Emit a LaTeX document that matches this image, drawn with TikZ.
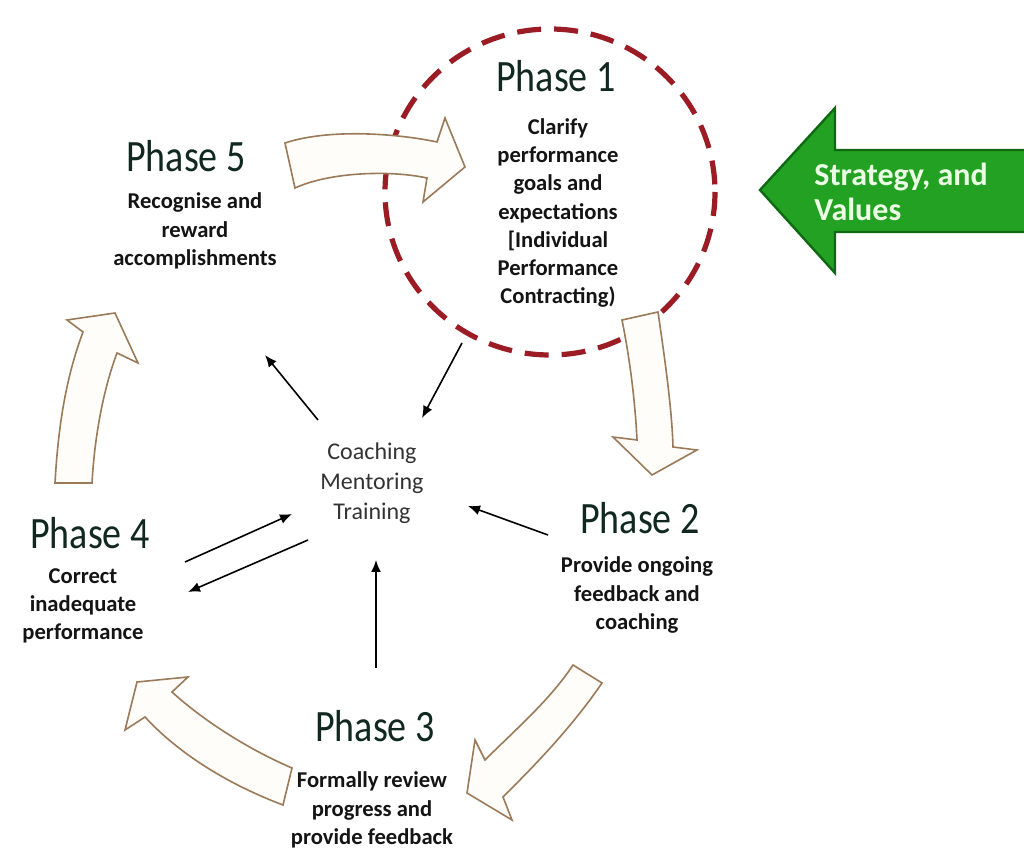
\documentclass[tikz,border=0pt]{standalone}
\usepackage{fontspec}
\setmainfont{Carlito}
\usetikzlibrary{arrows.meta}
\definecolor{phasetxt}{HTML}{102820}
\definecolor{bodytxt}{HTML}{141414}
\definecolor{midtxt}{HTML}{333333}
\definecolor{ringred}{HTML}{9B1C24}
\definecolor{blockline}{HTML}{9A7A58}
\definecolor{blockfill}{HTML}{FFFDF9}
\definecolor{greenfill}{HTML}{22A122}
\definecolor{greenline}{HTML}{0E6A12}
\definecolor{greentxt}{HTML}{EAFFE4}
\newcommand{\tallphase}[1]{\scalebox{1}[1.18]{#1}}
\tikzset{
  phase/.style={text=phasetxt, font=\fontsize{19}{23}\selectfont, inner sep=0pt},
  body/.style={text=bodytxt, font=\fontsize{11.3}{14.1}\selectfont\bfseries, align=center, inner sep=0pt},
  midtext/.style={text=midtxt, font=\fontsize{12}{15}\selectfont, align=center, inner sep=0pt},
  blockarrow/.style={draw=blockline, fill=blockfill, line width=0.8pt, line join=miter},
  link/.style={draw=black, line width=0.8pt, -{Latex[length=6pt,width=5pt]}},
  ring/.style={draw=ringred, line width=2.6pt, dash pattern=on 12pt off 6.5pt},
}
\begin{document}
\begin{tikzpicture}[x=0.5pt,y=-0.5pt]
\useasboundingbox (0,0) rectangle (1024,849);
\fill[white] (0,0) rectangle (1024,849);

% dashed ring around phase 1
\draw[ring] (550,192) ellipse [x radius=165, y radius=163];

% green strategy arrow
\filldraw[fill=greenfill, draw=greenline, line width=1.2pt, line join=miter]
  (760,190) -- (835,108) -- (835,150) -- (1026,150) -- (1026,232) -- (835,232) -- (835,273) -- cycle;
\node[anchor=west, text=greentxt, font=\fontsize{16}{17.5}\selectfont\bfseries, align=left, inner sep=0pt] (strat) at (814,192) {Strategy, and\\Values};

% block arrows of the cycle
\path[blockarrow] (285,143) .. controls (330,128) and (400,134) .. (437,142) -- (445,118) -- (465,167) -- (423,202) -- (427,178)
  .. controls (390,170) and (330,172) .. (295,188) -- cycle;
\path[blockarrow] (622,320) -- (658,312) .. controls (665,360) and (672,410) .. (673,447) -- (697,450) -- (652,475) -- (613,437) -- (637,440)
  .. controls (635,400) and (630,360) .. (622,320) -- cycle;
\path[blockarrow] (573,665) -- (602,683) .. controls (570,730) and (530,770) .. (503,797) -- (512,820) -- (467,793) -- (475,740) -- (485,760)
  .. controls (515,730) and (550,700) .. (573,665) -- cycle;
\path[blockarrow] (292,768) .. controls (250,750) and (205,722) .. (172,692) -- (188,677) -- (137,682) -- (125,730) -- (145,717)
  .. controls (180,755) and (230,785) .. (283,805) -- cycle;
\path[blockarrow] (55,483) -- (92,483) .. controls (95,430) and (105,385) .. (117,353) -- (138,363) -- (115,313) -- (67,320) -- (83,332)
  .. controls (65,380) and (58,430) .. (55,483) -- cycle;

% phase texts
\node[phase] (p1) at (556,76) {\tallphase{Phase 1}};
\node[body] (b1) at (558,213) {Clarify\\performance\\goals and\\expectations\\{[}Individual\\Performance\\Contracting)};
\node[phase] (p5) at (186,156) {\tallphase{Phase 5}};
\node[body] (b5) at (195,231) {Recognise and\\reward\\accomplishments};
\node[phase] (p4) at (90,533) {\tallphase{Phase 4}};
\node[body] (b4) at (83,606) {Correct\\inadequate\\performance};
\node[phase] (p2) at (640,518) {\tallphase{Phase 2}};
\node[body] (b2) at (637,595) {Provide ongoing\\feedback and\\coaching};
\node[phase] (p3) at (375,726) {\tallphase{Phase 3}};
\node[body] (b3) at (372,810) {Formally review\\progress and\\provide feedback};

% centre
\node[midtext] (mid) at (372,483) {Coaching\\Mentoring\\Training};

% connector end points
\coordinate (m5s) at (318,420); \coordinate (m5e) at (265,355);
\coordinate (m1s) at (462,343); \coordinate (m1e) at (422,418);
\coordinate (m2s) at (548,535); \coordinate (m2e) at (468,506);
\coordinate (m3s) at (376,668); \coordinate (m3e) at (376,560);
\coordinate (m4as) at (185,562); \coordinate (m4ae) at (292,514);
\coordinate (m4bs) at (308,540); \coordinate (m4be) at (188,592);

\draw[link] (m5s) -- (m5e);
\draw[link] (m1s) -- (m1e);
\draw[link] (m2s) -- (m2e);
\draw[link] (m3s) -- (m3e);
\draw[link] (m4as) -- (m4ae);
\draw[link] (m4bs) -- (m4be);
\end{tikzpicture}
\end{document}
